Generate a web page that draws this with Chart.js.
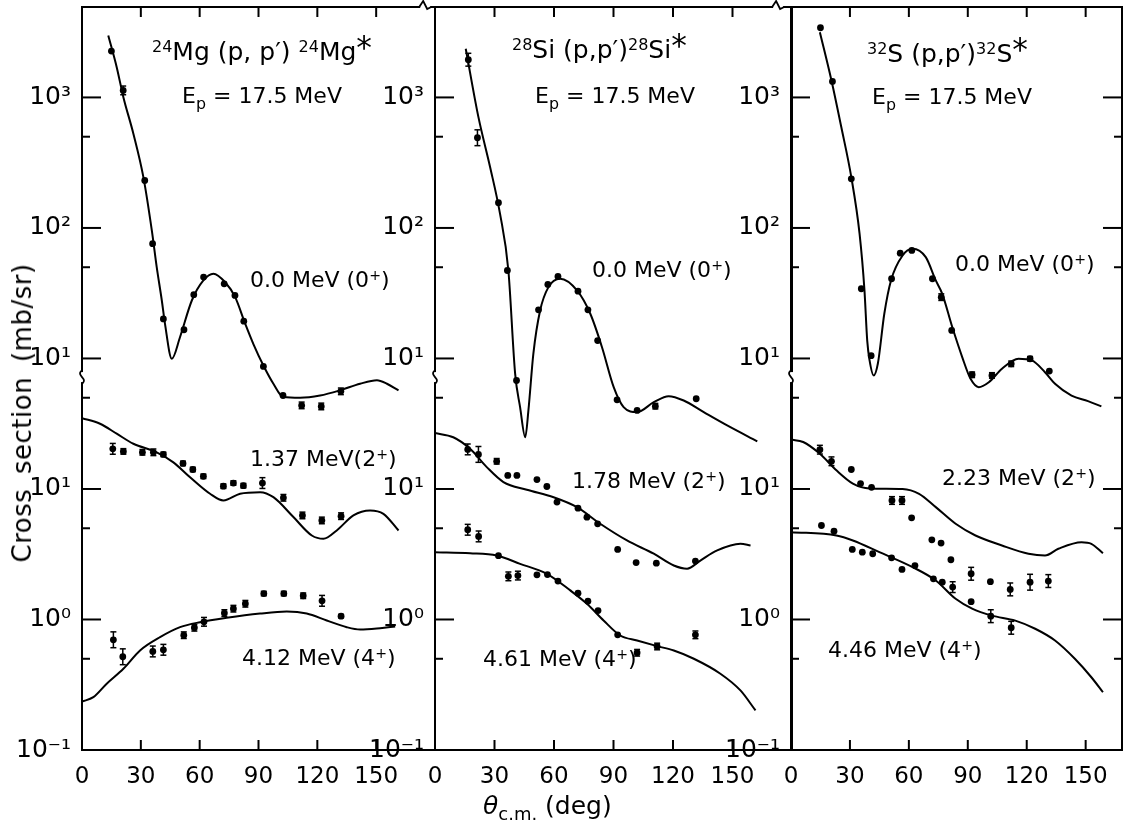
<!DOCTYPE html>
<html><head><meta charset="utf-8">
<script src="https://cdn.jsdelivr.net/npm/chart.js@4.4.0/dist/chart.umd.min.js"></script>
<style>
html,body{margin:0;padding:0;background:#fff;}
#wrap{position:relative;width:1126px;height:829px;overflow:hidden;background:#fff;font-family:'DejaVu Sans',sans-serif;color:#000;}
.pc{position:absolute;top:0;height:829px;}
.pc canvas{display:block;}
.t{position:absolute;white-space:nowrap;line-height:1;transform:translateY(-50%);z-index:5;}
.t sup{font-size:0.64em;line-height:0;vertical-align:0.5em;}
.t sub{font-size:0.72em;line-height:0;vertical-align:-0.38em;}
.ast{font-size:1.25em;line-height:0;vertical-align:0.05em;}
.ytitle{position:absolute;left:22px;top:413px;transform:translate(-50%,-50%) rotate(-90deg);white-space:nowrap;font-size:26px;line-height:1;word-spacing:6px;letter-spacing:0.5px;}
</style></head><body>
<div id="wrap">
  <div class="pc" style="left:0px;width:440px"><canvas id="c0" width="440" height="829"></canvas></div>
  <div class="pc" style="left:370px;width:427px"><canvas id="c1" width="427" height="829"></canvas></div>
  <div class="pc" style="left:725px;width:401px"><canvas id="c2" width="401" height="829"></canvas></div>

  <div class="t" style="left:152px;top:51px;font-size:25px"><sup>24</sup>Mg (p, p′) <sup>24</sup>Mg<span class="ast">*</span></div>
  <div class="t" style="left:182px;top:96px;font-size:22px">E<sub>p</sub> = 17.5 MeV</div>
  <div class="t" style="left:250px;top:280px;font-size:22px">0.0 MeV (0<sup>+</sup>)</div>
  <div class="t" style="left:250px;top:459px;font-size:22px">1.37 MeV(2<sup>+</sup>)</div>
  <div class="t" style="left:242px;top:658px;font-size:22px">4.12 MeV (4<sup>+</sup>)</div>

  <div class="t" style="left:512px;top:49px;font-size:25px"><sup>28</sup>Si (p,p′)<sup>28</sup>Si<span class="ast">*</span></div>
  <div class="t" style="left:535px;top:96px;font-size:22px">E<sub>p</sub> = 17.5 MeV</div>
  <div class="t" style="left:592px;top:270px;font-size:22px">0.0 MeV (0<sup>+</sup>)</div>
  <div class="t" style="left:572px;top:481px;font-size:22px">1.78 MeV (2<sup>+</sup>)</div>
  <div class="t" style="left:483px;top:659px;font-size:22px">4.61 MeV (4<sup>+</sup>)</div>

  <div class="t" style="left:867px;top:53px;font-size:25px"><sup>32</sup>S (p,p′)<sup>32</sup>S<span class="ast">*</span></div>
  <div class="t" style="left:872px;top:97px;font-size:22px">E<sub>p</sub> = 17.5 MeV</div>
  <div class="t" style="left:955px;top:264px;font-size:22px">0.0 MeV (0<sup>+</sup>)</div>
  <div class="t" style="left:942px;top:478px;font-size:22px">2.23 MeV (2<sup>+</sup>)</div>
  <div class="t" style="left:828px;top:650px;font-size:22px">4.46 MeV (4<sup>+</sup>)</div>

  <div class="ytitle">Cross section (mb/sr)</div>
  <div class="t" style="left:483px;top:805px;font-size:25px"><i>θ</i><sub>c.m.</sub> (deg)</div>
</div>
<script>
const FONT = "'DejaVu Sans', sans-serif";
const X_TICKS = [0, 30, 60, 90, 120, 150];
const Y_TICKS = [0.1, 1, 10, 100, 1000, 10000];
const Y_TICK_LABELS = ['10⁻¹', '10⁰', '10¹', '10¹', '10²', '10³'];
const Y_MINOR = [0.5, 5, 50, 500, 5000];
const ELASTIC_SHIFT = 10;   // elastic block sits one decade higher, above the axis break
const Y_MIN = 0.1, Y_MAX = 49300;
const BREAK_AT = 72;

// ---- 24Mg ----
const mgElT = [15, 21, 32, 36, 41.5, 52, 57, 62, 72.5, 78, 82.5, 92.5, 102.5, 112, 122, 132];
const mgEl = [2265, 1132, 231, 75.7, 20.1, 16.6, 30.8, 42, 37.3, 30.4, 19.3, 8.69, 5.2, 4.37, 4.29, 5.6];
const mgElErr = [0, 0.08, 0, 0, 0, 0, 0, 0, 0, 0, 0, 0, 0, 0.06, 0.06, 0.06];
const mgElFitT = [13.4, 17.7, 21.1, 26.2, 31.3, 35.6, 38.1, 40.7, 42.3, 45.8, 50, 56, 61.9, 67, 72.9, 78.1, 83.2, 87.4, 92.5, 97.6, 102.7, 111.2, 121.4, 131.6, 141.8, 150.4, 155.5, 161.4];
const mgElFit = [2985, 1706, 1005, 527, 245, 95.7, 50.1, 27.8, 18.5, 9.95, 14.6, 27.8, 39.6, 44.6, 38.5, 29.5, 18.5, 12.9, 8.83, 6.40, 5.06, 5.0, 5.2, 5.7, 6.4, 6.8, 6.4, 5.7];
const mg2T = [15.7, 21.1, 30.8, 36.4, 41.5, 51.5, 56.5, 61.9, 72.1, 77.2, 82.3, 92, 102.7, 112.4, 122.3, 132.1];
const mg2 = [20.3, 19.4, 19.1, 19.1, 18.4, 15.7, 14.1, 12.5, 10.5, 11.1, 10.6, 11.1, 8.56, 6.27, 5.74, 6.19];
const mg2Err = [0.1, 0.05, 0.05, 0.06, 0.04, 0.04, 0.04, 0.04, 0.04, 0.04, 0.04, 0.1, 0.06, 0.06, 0.06, 0.06];
const mg2FitT = [0, 9.2, 17.7, 26.2, 38.1, 46.6, 55.1, 65.3, 72.1, 80.6, 90.8, 97.6, 107.8, 117.2, 123.1, 129.9, 138.4, 146.9, 153.7, 161.4];
const mg2Fit = [34.9, 31.6, 26.5, 22.2, 19.1, 16.0, 12.3, 9.19, 8.16, 9.19, 9.45, 8.65, 6.09, 4.40, 4.15, 4.81, 6.27, 6.84, 6.45, 4.81];
const mg4T = [16, 20.8, 36.1, 41.5, 51.9, 57.3, 62.2, 72.6, 77.2, 83.3, 92.7, 102.9, 112.8, 122.4, 132.1];
const mg4 = [0.699, 0.518, 0.569, 0.586, 0.758, 0.864, 0.96, 1.12, 1.21, 1.32, 1.58, 1.58, 1.52, 1.39, 1.06];
const mg4Err = [0.15, 0.15, 0.1, 0.1, 0.06, 0.06, 0.08, 0.06, 0.06, 0.06, 0.04, 0.04, 0.05, 0.1, 0.03];
const mg4FitT = [0, 5.8, 12.6, 21.1, 29.6, 39.8, 50, 60.2, 73.8, 90.8, 104.4, 114.6, 124.8, 135, 141.8, 152, 159.7];
const mg4Fit = [0.235, 0.254, 0.322, 0.419, 0.579, 0.732, 0.873, 0.953, 1.03, 1.11, 1.15, 1.11, 0.982, 0.873, 0.838, 0.858, 0.884];

// ---- 28Si ----
const siElT = [16.8, 21.4, 32, 36.5, 41.1, 52.2, 56.9, 62, 72.1, 77.1, 82, 91.8, 101.9, 111.1, 131.7];
const siEl = [1945, 491, 156, 47.2, 6.78, 23.6, 36.9, 42.5, 32.8, 23.6, 13.7, 4.82, 4.0, 4.31, 4.91];
const siElErr = [0.12, 0.15, 0, 0, 0, 0, 0, 0, 0, 0, 0, 0, 0, 0.05, 0];
const siElFitT = [15.5, 21.9, 27.8, 32.8, 37, 40.4, 42.9, 45.5, 47.1, 49.6, 53, 57.2, 63.1, 71.6, 78.3, 84.2, 90.1, 95.1, 101.9, 110.3, 117.8, 125.4, 135.5, 147.3, 162.5];
const siElFit = [2361, 706, 292, 128, 47.2, 7.64, 4.24, 2.49, 4.0, 10.9, 23.3, 35.2, 40.8, 33.2, 22.0, 12.2, 6.03, 4.24, 3.88, 4.62, 5.14, 4.76, 3.88, 3.07, 2.32];
const si2T = [16.5, 21.9, 31.1, 36.7, 41.3, 51.4, 56.4, 61.5, 72.1, 76.6, 82, 92.1, 101.4, 111.6, 131.3];
const si2 = [20.1, 18.4, 16.3, 12.7, 12.7, 11.8, 10.45, 7.93, 7.13, 6.08, 5.41, 3.44, 2.73, 2.7, 2.8];
const si2Err = [0.1, 0.15, 0.05, 0, 0, 0, 0, 0, 0, 0, 0, 0, 0, 0, 0];
const si2FitT = [0, 9.2, 17.7, 26.1, 34.5, 46.3, 59.8, 71.6, 83.3, 96.8, 110.3, 120.4, 127.1, 133.8, 142.3, 154, 159.1];
const si2Fit = [26.8, 24.9, 20.3, 14.7, 11.3, 9.86, 8.65, 7.26, 5.41, 4.03, 3.19, 2.59, 2.45, 2.83, 3.38, 3.80, 3.69];
const si4T = [16.5, 22, 32, 37, 41.8, 51.4, 56.7, 62, 72.1, 77.1, 82.2, 92.1, 101.9, 112, 131.3];
const si4 = [4.87, 4.33, 3.08, 2.14, 2.17, 2.2, 2.21, 1.97, 1.59, 1.38, 1.17, 0.763, 0.556, 0.621, 0.763];
const si4Err = [0.1, 0.1, 0, 0.08, 0.08, 0, 0, 0, 0, 0, 0, 0, 0.06, 0.06, 0.07];
const si4FitT = [0, 17.7, 31.1, 42.9, 56.4, 68.2, 76.6, 85, 93.4, 101.9, 112, 120.4, 130.5, 143.9, 154, 161.6];
const si4Fit = [3.28, 3.22, 3.09, 2.67, 2.24, 1.67, 1.32, 0.983, 0.754, 0.69, 0.625, 0.578, 0.5, 0.384, 0.286, 0.201];

// ---- 32S ----
const sElT = [15, 21.1, 30.7, 35.8, 40.8, 51.2, 55.6, 61.5, 72, 76.5, 81.8, 92.2, 102.3, 112.1, 121.7, 131.5];
const sEl = [3420, 1327, 238, 34.2, 10.5, 40.8, 64.1, 67.2, 40.8, 29.5, 16.4, 7.5, 7.41, 9.1, 9.95, 8.0];
const sElErr = [0, 0, 0, 0, 0, 0, 0, 0, 0, 0.06, 0, 0.05, 0.05, 0.05, 0.04, 0];
const sElFitT = [14.7, 20.6, 25.6, 30.7, 34.9, 37.4, 38.8, 40, 42.1, 44.2, 47.5, 50.9, 56.8, 61.9, 68.6, 73.7, 77, 82.1, 87.2, 91.4, 95.6, 100.7, 107.4, 115.8, 122.6, 129.3, 134.4, 142.8, 151.2, 158];
const sElFit = [3162, 1349, 593, 245, 90.3, 33.2, 13.7, 9.66, 7.41, 9.1, 22, 39.6, 61.5, 69.3, 59.7, 39.6, 31.3, 17.4, 10.2, 6.98, 6.03, 6.58, 8.34, 9.95, 9.66, 7.85, 6.4, 5.2, 4.71, 4.29];
const s2T = [14.7, 20.6, 30.7, 35.4, 41, 51.4, 56.5, 61.4, 71.7, 76.4, 81.4, 91.7, 101.5, 111.6, 121.7, 131];
const s2 = [20, 16.3, 14.1, 11.0, 10.3, 8.16, 8.16, 6.01, 4.08, 3.85, 2.87, 2.24, 1.95, 1.7, 1.93, 1.97];
const s2Err = [0.08, 0.08, 0, 0, 0, 0.07, 0.07, 0, 0, 0, 0, 0.12, 0, 0.12, 0.15, 0.12];
const s2FitT = [0, 6.2, 14.7, 23.1, 31.5, 40, 56.8, 65.2, 73.7, 83.8, 93.9, 107.4, 120.9, 129.3, 136.1, 147.9, 152.9, 158.8];
const s2Fit = [23.9, 22.9, 18.6, 13.9, 11.0, 10.1, 10.0, 9.19, 7.26, 5.41, 4.4, 3.69, 3.19, 3.09, 3.48, 3.91, 3.8, 3.22];
const s4T = [15.5, 21.9, 31.2, 36.3, 41.6, 51.2, 56.5, 63.1, 72.5, 77, 82.3, 91.7, 101.7, 112.1];
const s4 = [5.25, 4.75, 3.44, 3.28, 3.19, 2.97, 2.42, 2.59, 2.05, 1.93, 1.77, 1.37, 1.06, 0.864];
const s4Err = [0, 0, 0, 0, 0, 0, 0, 0, 0, 0, 0.1, 0, 0.12, 0.12];
const s4FitT = [0, 23.1, 31.5, 45, 61.9, 73.7, 83.8, 92.2, 102.3, 114.2, 124.3, 134.4, 144.5, 152.9, 158.8];
const s4Fit = [4.67, 4.4, 4.03, 3.28, 2.52, 1.99, 1.44, 1.21, 1.07, 0.98, 0.849, 0.69, 0.5, 0.361, 0.277];

const deco = {
  id: 'deco',
  afterDatasetsDraw(chart, args, opts) {
    const ctx = chart.ctx, a = chart.chartArea, x = chart.scales.x, y = chart.scales.y;
    const seg = (x1, y1, x2, y2) => { ctx.beginPath(); ctx.moveTo(x1, y1); ctx.lineTo(x2, y2); ctx.stroke(); };
    ctx.save();
    ctx.strokeStyle = '#000';
    ctx.lineCap = 'butt';
    // error bars
    ctx.lineWidth = 1.5;
    chart.data.datasets.forEach(ds => {
      if (!ds.err) return;
      ds.data.forEach((p, j) => {
        const e = ds.err[j];
        if (!e) return;
        const px = x.getPixelForValue(p.x);
        const y1 = y.getPixelForValue(p.y * (1 + e));
        const y2 = y.getPixelForValue(p.y / (1 + e));
        seg(px, y1, px, y2);
        seg(px - 3, y1, px + 3, y1);
        seg(px - 3, y2, px + 3, y2);
      });
    });
    // frame
    ctx.lineWidth = 2;
    ctx.strokeRect(a.left, a.top, a.right - a.left, a.bottom - a.top);
    // y ticks (inward)
    Y_TICKS.forEach(v => {
      const py = y.getPixelForValue(v);
      seg(a.left, py, a.left + 19, py);
      if (opts.rightTicks) seg(a.right - 19, py, a.right, py);
    });
    Y_MINOR.forEach(v => {
      const py = y.getPixelForValue(v);
      seg(a.left, py, a.left + 8, py);
      if (opts.rightTicks) seg(a.right - 8, py, a.right, py);
    });
    // x ticks (inward, bottom and top)
    X_TICKS.slice(1).forEach(v => {
      const px = x.getPixelForValue(v);
      seg(px, a.bottom, px, a.bottom - 10);
      seg(px, a.top, px, a.top + 10);
    });
    // axis break on the left axis
    const pb = y.getPixelForValue(BREAK_AT);
    ctx.fillStyle = '#fff';
    ctx.fillRect(a.left - 2, pb - 5, 4, 10);
    ctx.lineWidth = 1.8;
    ctx.beginPath();
    ctx.moveTo(a.left, pb - 7);
    ctx.bezierCurveTo(a.left - 7, pb - 1, a.left + 7, pb + 1, a.left, pb + 7);
    ctx.stroke();
    // break mark on the top axis
    if (opts.topBreak) {
      const pt = x.getPixelForValue(opts.topBreak);
      ctx.fillRect(pt - 5, a.top - 2, 10, 4);
      ctx.beginPath();
      ctx.moveTo(pt - 6, a.top);
      ctx.lineTo(pt - 2, a.top - 6);
      ctx.lineTo(pt + 2, a.top + 2);
      ctx.lineTo(pt + 6, a.top);
      ctx.stroke();
    }
    ctx.restore();
  }
};

function makePanel(id, cfg) {
  const datasets = [];
  cfg.series.forEach(s => {
    const k = s.elastic ? ELASTIC_SHIFT : 1;
    datasets.push({
      type: 'line',
      data: s.fitT.map((t, i) => ({ x: t, y: s.fit[i] * k })),
      borderColor: '#000', borderWidth: 2, pointRadius: 0,
      cubicInterpolationMode: 'monotone', fill: false, order: 2
    });
    datasets.push({
      type: 'scatter',
      data: s.t.map((t, i) => ({ x: t, y: s.v[i] * k })),
      err: s.err,
      pointRadius: 3.4, pointBackgroundColor: '#000', pointBorderWidth: 0,
      pointBorderColor: '#000', order: 1
    });
  });
  return new Chart(document.getElementById(id), {
    type: 'scatter',
    data: { datasets },
    options: {
      responsive: false, animation: false, devicePixelRatio: 1, events: [],
      layout: { padding: { top: 7, right: cfg.padRight, left: 0, bottom: 0 } },
      plugins: {
        legend: { display: false }, tooltip: { enabled: false },
        deco: { rightTicks: cfg.rightTicks, topBreak: cfg.topBreak }
      },
      scales: {
        x: {
          type: 'linear', min: 0, max: cfg.xMax,
          grid: { display: false }, border: { display: false },
          afterBuildTicks: s => { s.ticks = X_TICKS.map(v => ({ value: v })); },
          afterFit: s => { s.height = 79; s.paddingLeft = 0; s.paddingRight = 0; },
          ticks: { color: '#000', font: { family: FONT, size: 23 }, padding: 5, maxRotation: 0, autoSkip: false, callback: v => String(v) }
        },
        y: {
          type: 'logarithmic', min: Y_MIN, max: Y_MAX,
          grid: { display: false }, border: { display: false },
          afterBuildTicks: s => { s.ticks = Y_TICKS.map(v => ({ value: v })); },
          afterFit: s => { s.width = cfg.yAxisWidth; s.paddingTop = 0; s.paddingBottom = 0; },
          ticks: { color: '#000', font: { family: FONT, size: 25 }, padding: 3, autoSkip: false, callback: (v, i) => Y_TICK_LABELS[i] }
        }
      }
    },
    plugins: [deco]
  });
}

makePanel('c0', {
  yAxisWidth: 82, padRight: 5, xMax: 180, rightTicks: false, topBreak: 175,
  series: [
    { elastic: true, t: mgElT, v: mgEl, err: mgElErr, fitT: mgElFitT, fit: mgElFit },
    { t: mg2T, v: mg2, err: mg2Err, fitT: mg2FitT, fit: mg2Fit },
    { t: mg4T, v: mg4, err: mg4Err, fitT: mg4FitT, fit: mg4Fit }
  ]
});
makePanel('c1', {
  yAxisWidth: 65, padRight: 5, xMax: 180, rightTicks: false, topBreak: 173,
  series: [
    { elastic: true, t: siElT, v: siEl, err: siElErr, fitT: siElFitT, fit: siElFit },
    { t: si2T, v: si2, err: si2Err, fitT: si2FitT, fit: si2Fit },
    { t: si4T, v: si4, err: si4Err, fitT: si4FitT, fit: si4Fit }
  ]
});
makePanel('c2', {
  yAxisWidth: 66, padRight: 2, xMax: 168.5, rightTicks: true, topBreak: null,
  series: [
    { elastic: true, t: sElT, v: sEl, err: sElErr, fitT: sElFitT, fit: sElFit },
    { t: s2T, v: s2, err: s2Err, fitT: s2FitT, fit: s2Fit },
    { t: s4T, v: s4, err: s4Err, fitT: s4FitT, fit: s4Fit }
  ]
});
</script>
</body></html>
